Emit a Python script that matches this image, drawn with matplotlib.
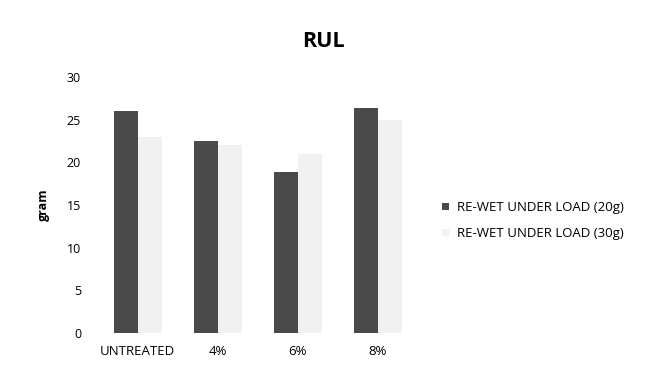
import numpy as np
import matplotlib.pyplot as plt

plt.rcParams['font.family'] = ['Open Sans', 'DejaVu Sans']

categories = ["UNTREATED", "4%", "6%", "8%"]
rul_20g = [26.0, 22.5, 18.8, 26.4]
rul_30g = [23.0, 22.0, 21.0, 25.0]
series_names = ["RE-WET UNDER LOAD (20g)", "RE-WET UNDER LOAD (30g)"]

fig = plt.figure(figsize=(6.47, 3.77), dpi=100)
ax = fig.add_axes([0.151, 0.117, 0.495, 0.679])

x = np.arange(len(categories))
w = 0.3
ax.bar(x - w / 2, rul_20g, w, color="#4a4a4a", label=series_names[0])
ax.bar(x + w / 2, rul_30g, w, color="#f1f1f1", label=series_names[1])

ax.set_xlim(-0.5, len(categories) - 0.5)
ax.set_ylim(0, 30)
ax.set_yticks(range(0, 31, 5))
ax.set_xticks(x)
ax.set_xticklabels(categories)
ax.tick_params(axis="y", length=0, labelsize=9, pad=12)
ax.tick_params(axis="x", length=0, labelsize=9.5, pad=9)
for s in ax.spines.values():
    s.set_visible(False)

ax.set_ylabel("gram", fontsize=9, fontweight="bold", labelpad=12)
fig.text(0.5, 0.875, "RUL", ha="center", fontsize=15.5, fontweight="bold")

fig.legend(loc="center left", bbox_to_anchor=(0.665, 0.415), frameon=False,
           fontsize=9.5, handlelength=0.5, handleheight=0.5, labelspacing=1.0,
           handletextpad=0.6)

fig.savefig("out.png", dpi=100)
